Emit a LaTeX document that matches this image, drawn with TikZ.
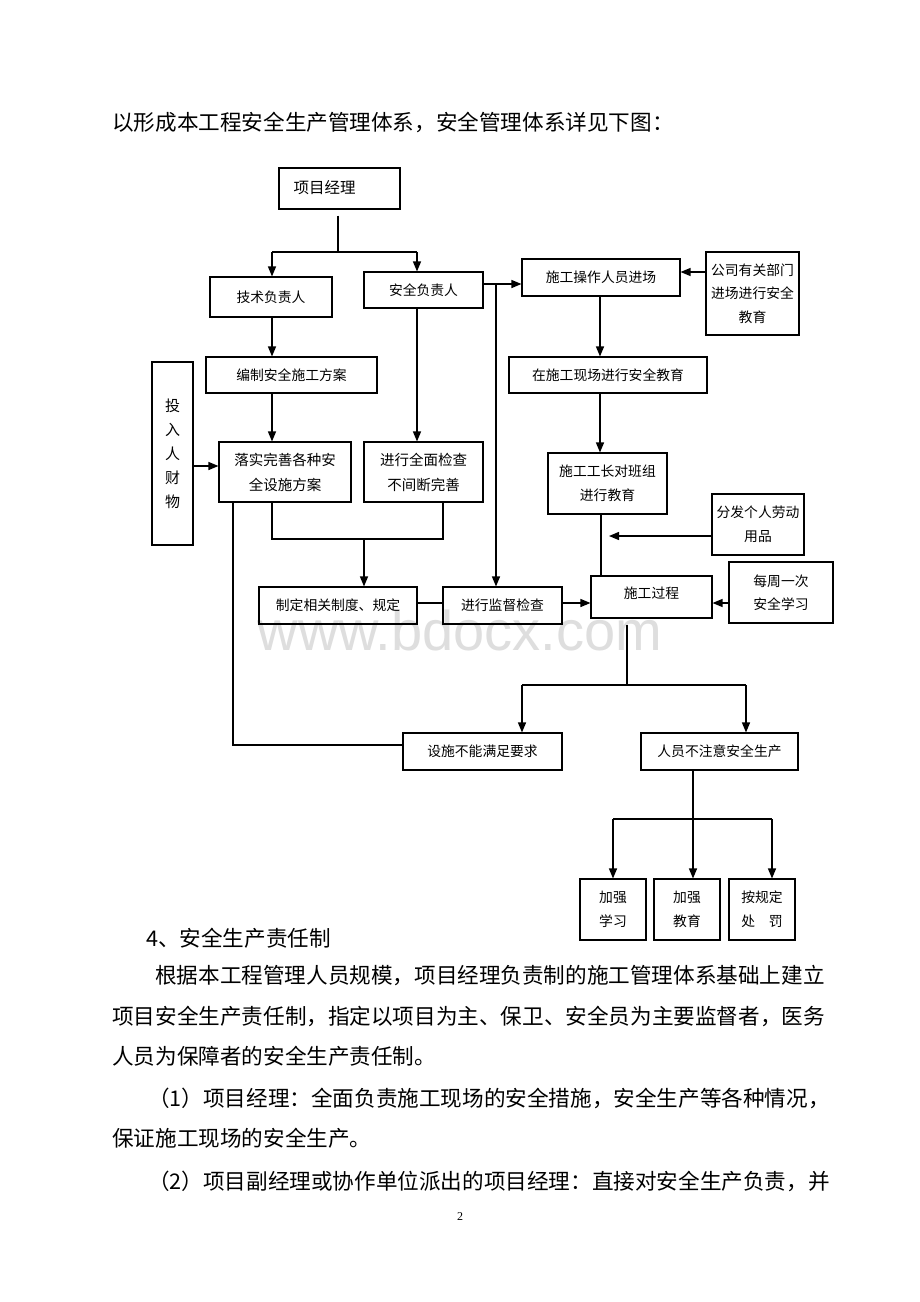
\documentclass[tikz,border=0pt]{standalone}
\usepackage{fontspec}
\setmainfont{Noto Sans CJK SC}
\newfontfamily\seriffont{Liberation Serif}
\newfontfamily\wmfont{Liberation Sans}
\usetikzlibrary{arrows.meta}
\begin{document}
\begin{tikzpicture}[x=1pt,y=-1pt,
  box/.style={draw, line width=1.1pt, inner sep=0pt, align=center, font=\fontsize{13.8}{24}\selectfont},
  ln/.style={line width=1.3pt},
  arr/.style={line width=1.3pt, -{Triangle[length=10pt,width=8pt]}},
  body/.style={anchor=west, inner sep=0pt, font=\fontsize{21.6}{26}\selectfont}]
\useasboundingbox[fill=white] (0,0) rectangle (920,1302);

% watermark
\node[text=black!13, font=\wmfont\fontsize{56}{60}\selectfont, inner sep=0pt] (wm) at (460,630) {www.bdocx.com};

% paragraph text
\node[body] (t0) at (112,122) {以形成本工程安全生产管理体系，安全管理体系详见下图：};
\node[body] (t1) at (146,938) {4、安全生产责任制};
\node[body] (t2) at (155,976) {根据本工程管理人员规模，项目经理负责制的施工管理体系基础上建立};
\node[body] (t3) at (112,1016) {项目安全生产责任制，指定以项目为主、保卫、安全员为主要监督者，医务};
\node[body] (t4) at (112,1056) {人员为保障者的安全生产责任制。};
\node[body] (t5) at (148,1098) {（1）项目经理：全面负责施工现场的安全措施，安全生产等各种情况，};
\node[body] (t6) at (112,1138) {保证施工现场的安全生产。};
\node[body] (t7) at (148,1181) {（2）项目副经理或协作单位派出的项目经理：直接对安全生产负责，并};
\node[font=\seriffont\fontsize{12}{14}\selectfont, inner sep=0pt] (pg) at (460,1217) {2};

% boxes
\node[box, minimum width=121, minimum height=41] (pm) at (339.5,188.5) {};
\node[font=\fontsize{15.5}{18}\selectfont, inner sep=0pt] (pmt) at (324.5,187.5) {项目经理};
\node[box, minimum width=122, minimum height=40] (tech) at (271,297) {技术负责人};
\node[box, minimum width=119, minimum height=36] (safe) at (423.5,290) {安全负责人};
\node[box, minimum width=158, minimum height=37] (ops) at (601,277.5) {施工操作人员进场};
\node[box, minimum width=93, minimum height=83, font=\fontsize{13.8}{23.5}\selectfont] (comp) at (752.5,293.5) {公司有关部门\\进场进行安全\\教育};
\node[box, minimum width=171, minimum height=36] (bianzhi) at (291.5,375) {编制安全施工方案};
\node[box, minimum width=198, minimum height=36] (site) at (608,375) {在施工现场进行安全教育};
\node[box, minimum width=41, minimum height=183, font=\fontsize{15}{24}\selectfont] (invest) at (172.5,453.5) {投\\入\\人\\财\\物};
\node[box, minimum width=132, minimum height=60, font=\fontsize{14.5}{25}\selectfont] (luoshi) at (285,472) {落实完善各种安\\全设施方案};
\node[box, minimum width=119, minimum height=60, font=\fontsize{14.5}{25}\selectfont] (jiancha) at (423.5,472) {进行全面检查\\不间断完善};
\node[box, minimum width=119, minimum height=61, font=\fontsize{13.8}{24}\selectfont] (gongzhang) at (607.5,483.5) {施工工长对班组\\进行教育};
\node[box, minimum width=92, minimum height=61, font=\fontsize{13.8}{24}\selectfont] (fenfa) at (758,524.5) {分发个人劳动\\用品};
\node[box, minimum width=158, minimum height=37] (zhiding) at (338,605.5) {制定相关制度、规定};
\node[box, minimum width=119, minimum height=37] (jiandu) at (502.5,605.5) {进行监督检查};
\node[box, minimum width=121, minimum height=42] (process) at (651.5,597) {};
\node[font=\fontsize{13.8}{16}\selectfont, inner sep=0pt] (processt) at (651.5,593) {施工过程};
\node[box, minimum width=104, minimum height=61, font=\fontsize{13.8}{23}\selectfont] (weekly) at (781,592.5) {每周一次\\安全学习};
\node[box, minimum width=159, minimum height=37] (sheshi) at (482.5,751.5) {设施不能满足要求};
\node[box, minimum width=157, minimum height=37] (renyuan) at (719.5,751.5) {人员不注意安全生产};
\node[box, minimum width=66, minimum height=61, font=\fontsize{13.8}{24}\selectfont] (jq1) at (613,909.5) {加强\\学习};
\node[box, minimum width=66, minimum height=61, font=\fontsize{13.8}{24}\selectfont] (jq2) at (687,909.5) {加强\\教育};
\node[box, minimum width=66, minimum height=61, font=\fontsize{13.8}{24}\selectfont] (cf) at (762,909.5) {按规定\\处　罚};

% connector coordinates
\coordinate (pmj) at (338,252);
\coordinate (tl) at (272,252);
\coordinate (tr) at (417,252);
\coordinate (sy) at (496,284);
\coordinate (cy) at (700,272);
\coordinate (ox) at (600,300);
\coordinate (gx) at (601,520);
\coordinate (fe) at (609,536);
\coordinate (wy) at (600,603);
\coordinate (b1) at (272,539);
\coordinate (b2) at (443,539);
\coordinate (bm) at (364,539);
\coordinate (iy) at (200,466);
\coordinate (lx) at (233,745);
\coordinate (pj) at (627,685);
\coordinate (pl) at (522,685);
\coordinate (pr) at (746,685);
\coordinate (rj) at (693,819);
\coordinate (ra) at (613,819);
\coordinate (rb) at (772,819);

% connectors
\draw[ln] (pmj |- pm.south) ++(0,6) -- (pmj);
\draw[ln] (tl) -- (tr);
\draw[arr] (tl) -- (tl |- tech.north);
\draw[arr] (tr) -- (tr |- safe.north);
\draw[arr] (tech.south -| tl) -- (bianzhi.north -| tl);
\draw[arr] (bianzhi.south -| tl) -- (luoshi.north -| tl);
\draw[arr] (safe.south -| tr) -- (jiancha.north -| tr);
\draw[arr] (safe.east |- sy) -- (ops.west |- sy);
\draw[arr] (sy) -- (sy |- jiandu.north);
\draw[arr] (comp.west |- cy) -- (ops.east |- cy);
\draw[arr] (ops.south -| ox) -- (site.north -| ox);
\draw[arr] (site.south -| ox) -- (gongzhang.north -| ox);
\draw[ln] (gongzhang.south -| gx) -- (process.north -| gx);
\draw[arr] (fenfa.west |- fe) -- (fe);
\draw[arr] (weekly.west |- wy) -- (process.east |- wy);
\draw[arr] (jiandu.east |- wy) -- (process.west |- wy);
\draw[ln] (zhiding.east |- wy) -- (jiandu.west |- wy);
\draw[ln] (luoshi.south -| b1) -- (b1) -- (b2) -- (jiancha.south -| b2);
\draw[arr] (bm) -- (zhiding.north -| bm);
\draw[arr] (invest.east |- iy) -- (luoshi.west |- iy);
\draw[ln] (luoshi.south -| lx) -- (lx) -- (sheshi.west |- lx);
\draw[ln] (process.south -| pj) ++(0,6) -- (pj);
\draw[ln] (pl) -- (pr);
\draw[arr] (pl) -- (pl |- sheshi.north);
\draw[arr] (pr) -- (pr |- renyuan.north);
\draw[arr] (renyuan.south -| rj) -- (jq2.north -| rj);
\draw[ln] (ra) -- (rb);
\draw[arr] (ra) -- (ra |- jq1.north);
\draw[arr] (rb) -- (rb |- cf.north);
\end{tikzpicture}
\end{document}
